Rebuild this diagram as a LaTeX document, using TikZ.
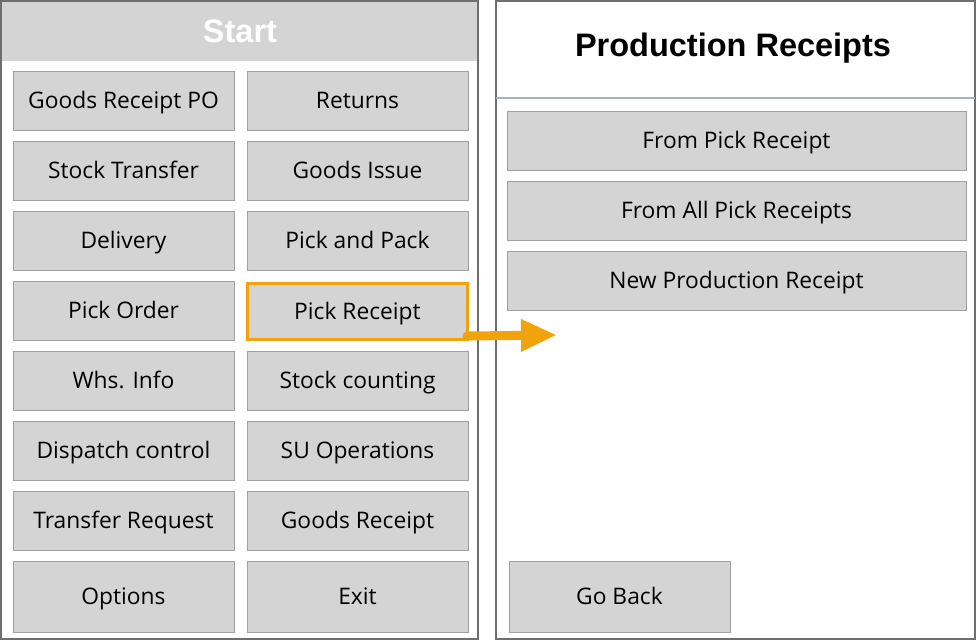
\documentclass[tikz,border=0pt]{standalone}
\usepackage{fontspec}
\setmainfont{Open Sans}
\newfontfamily\titlefont{Liberation Sans}
\usetikzlibrary{arrows.meta}
\definecolor{btngray}{HTML}{D4D4D4}
\definecolor{btnline}{HTML}{A0A0A0}
\definecolor{panelline}{HTML}{6E6E6E}
\definecolor{sepline}{HTML}{A9B2BA}
\definecolor{pickorange}{HTML}{F0A30A}
\begin{document}
\begin{tikzpicture}[x=1pt, y=-1pt,
    btn/.style = {shape=rectangle, draw=btnline, fill=btngray,
      minimum width=221pt, minimum height=59pt, inner sep=0pt,
      text height=16.5pt, text depth=0pt,
      font=\fontsize{22.8}{27}\selectfont},
    widebtn/.style = {btn, minimum width=459pt},
    tallbtn/.style = {btn, minimum height=71pt},
    title/.style = {font=\titlefont\bfseries\fontsize{32.5}{38}\selectfont}]
  \useasboundingbox (0,0) rectangle (976,640);
  % left panel
  \fill[btngray] (1,1) rectangle (478,61);
  \draw[panelline, line width=2pt] (1,1) rectangle (478,639);
  \node[title, text=white] (start) at (240,31) {Start};
  \node[btn] (grpo) at (123.5,100.5) {Goods Receipt PO};
  \node[btn] (returns) at (357.5,100.5) {Returns};
  \node[btn] (transfer) at (123.5,170.5) {Stock Transfer};
  \node[btn] (issue) at (357.5,170.5) {Goods Issue};
  \node[btn] (delivery) at (123.5,240.5) {Delivery};
  \node[btn] (pack) at (357.5,240.5) {Pick and Pack};
  \node[btn] (pickorder) at (123.5,310.5) {Pick Order};
  \node[btn, draw=pickorange, line width=3pt, minimum width=220pt, minimum height=56pt] (pickreceipt) at (357.5,311.5) {Pick Receipt};
  \node[btn] (whs) at (123.5,380.5) {Whs. Info};
  \node[btn] (counting) at (357.5,380.5) {Stock counting};
  \node[btn] (dispatch) at (123.5,450.5) {Dispatch control};
  \node[btn] (su) at (357.5,450.5) {SU Operations};
  \node[btn] (request) at (123.5,520.5) {Transfer Request};
  \node[btn] (receipt) at (357.5,520.5) {Goods Receipt};
  \node[tallbtn] (options) at (123.5,596.5) {Options};
  \node[tallbtn] (exit) at (357.5,596.5) {Exit};
  % right panel
  \draw[panelline, line width=2pt] (496,1) rectangle (975,639);
  \draw[sepline, line width=1.5pt] (496,98) -- (975,98);
  \node[title] (production) at (733,48) {Production Receipts};
  \node[widebtn] (frompick) at (736.5,140.5) {From Pick Receipt};
  \node[widebtn] (fromall) at (736.5,210.5) {From All Pick Receipts};
  \node[widebtn] (newreceipt) at (736.5,280.5) {New Production Receipt};
  \node[tallbtn] (goback) at (619.5,596.5) {Go Back};
  % arrow
  \coordinate (arrowend) at (557,335);
  \draw[pickorange, line width=9pt, line cap=round, -{Triangle[length=36pt, width=30pt]}] (pickreceipt.south east) ++(-2,-5) -- (arrowend);
\end{tikzpicture}
\end{document}
